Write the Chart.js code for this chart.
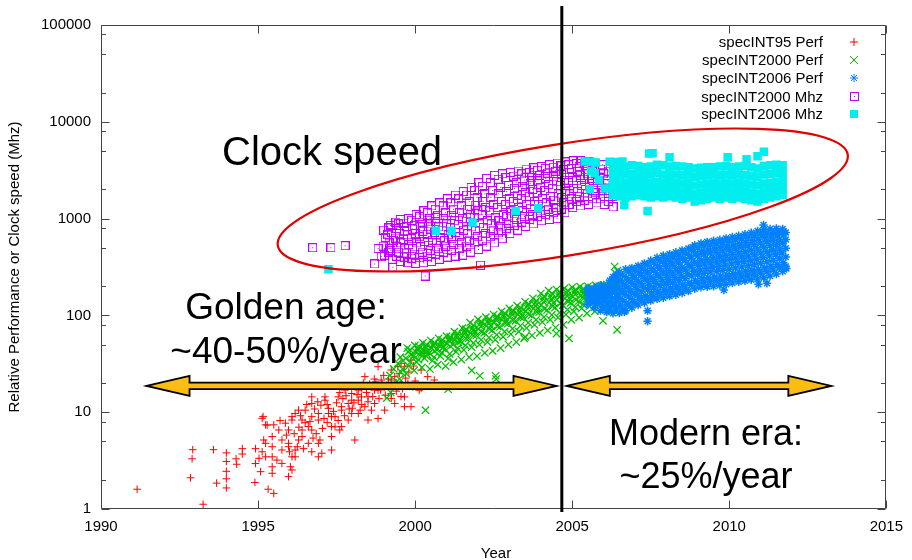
<!DOCTYPE html>
<html>
<head>
<meta charset="utf-8">
<script src="https://cdn.jsdelivr.net/npm/chart.js@4.4.0/dist/chart.umd.min.js"></script>
<style>
  html, body { margin: 0; padding: 0; background: #fff; }
</style>
</head>
<body>
<canvas id="chart" width="912" height="560"></canvas>
<script>
// tick values
const xTicks = [1990, 1995, 2000, 2005, 2010, 2015];
const yTicks = [1, 10, 100, 1000, 10000, 100000];
const yMinorTicks = [2, 5, 8, 20, 50, 80, 200, 500, 800, 2000, 5000, 8000, 20000, 50000, 80000];

const seriesNames = ['specINT95 Perf', 'specINT2000 Perf', 'specINT2006 Perf', 'specINT2000 Mhz', 'specINT2006 Mhz'];

// [year, value]
const spec95Perf = [
  [1991.15,1.6],[1992.85,2.1],[1992.9,3.3],[1992.92,4.1],[1993.25,1.12],[1993.58,4.1],[1993.68,1.85],
  [1993.99,3.8],[1993.99,3.1],[1993.99,2.45],[1993.99,2.05],[1993.99,1.65],[1994.3,3.3],[1994.32,2.9],
  [1994.5,4.2],[1994.5,3.7],[1994.9,1.88],[1994.92,2.95],[1994.92,4.2],[1995.03,3.34],
  [1995.08,2.43],[1995.13,3.9],[1995.13,8.65],[1995.16,9.0],[1995.18,5.16],[1995.24,7.4],[1995.24,4.77],
  [1995.24,3.46],[1995.29,7.36],[1995.32,1.6],[1995.45,4.4],[1995.45,3.46],[1995.45,2.34],[1995.45,5.6],
  [1995.45,2.73],[1995.5,7.4],[1995.5,1.45],[1995.66,6.55],[1995.76,5.16],[1995.76,4.07],[1995.76,2.96],
  [1995.87,7.7],[1995.97,6.55],[1995.97,4.4],[1995.97,4.77],[1995.97,2.16],[1996.03,2.73],[1996.08,8.3],
  [1996.08,9.0],[1996.08,3.46],[1996.08,2.53],[1996.18,9.7],[1996.18,3.46],[1996.18,4.07],[1996.29,5.16],
  [1996.29,10.5],[1996.3,7.0],[1996.4,8.3],[1996.4,6.55],[1996.4,5.6],[1996.5,10.5],[1996.5,7.8],[1996.6,7.1],
  [1996.6,4.77],[1996.71,12.3],[1996.71,9.0],[1996.71,6.55],[1996.71,3.9],[1996.71,14.4],[1996.8,10.8],
  [1996.85,6.0],[1996.92,9.7],[1996.92,8.3],[1996.92,4.77],[1996.92,3.46],[1996.97,5.16],[1997.0,11.8],
  [1997.03,3.77],[1997.1,8.6],[1997.13,14.4],[1997.13,13.3],[1997.24,10.96],[1997.24,9.7],[1997.34,9.0],
  [1997.34,7.1],[1997.34,5.6],[1997.34,4.07],[1997.45,7.07],[1997.45,9.0],[1997.5,12.5],[1997.55,14.4],
  [1997.6,6.55],[1997.66,11.4],[1997.66,10.5],[1997.66,7.1],[1997.7,13.8],[1997.77,16.9],[1997.87,12.3],
  [1997.87,8.3],[1997.98,13.3],[1997.98,9.7],[1997.98,15.6],[1998.0,11.0],[1998.08,5.16],[1998.1,18.5],
  [1998.19,16.9],[1998.19,13.3],[1998.19,9.7],[1998.29,14.4],[1998.3,17.5],[1998.3,12.0],[1998.4,11.4],
  [1998.4,23.3],[1998.5,8.3],[1998.5,14.4],[1998.55,19.5],[1998.6,18.3],[1998.61,10.5],[1998.71,16.9],
  [1998.71,12.3],[1998.75,20.5],[1998.82,8.6],[1998.82,16.9],[1998.82,29.5],[1998.9,17.0],[1998.92,21.5],
  [1999.03,18.3],[1999.03,10.5],[1999.1,19.0],[1999.24,27.3],[1999.24,21.5],[1999.24,15.6],[1999.24,13.9],
  [1999.35,23.3],[1999.35,12.3],[1999.4,16.5],[1999.45,29.5],[1999.45,18.3],[1999.55,32],[1999.55,19.9],
  [1999.6,17.5],[1999.66,29.5],[1999.66,14.4],[1999.66,11.4],[1999.77,19.9],[1999.87,34.5],[1999.87,11.4],
  [2000.08,18.3],[2000.13,16.9],[2000.19,17.6],[2000.19,27.3],[2000.29,40.5],[2000.4,23.3],[2000.61,21.5],
  [1995.6,3.2],[1995.7,8.2],[1995.9,5.8],[1996.0,3.9],[1996.15,6.0],[1996.25,4.4],[1996.35,9.2],
  [1996.45,4.2],[1996.55,12.0],[1996.65,8.0],[1996.75,5.4],[1996.9,12.8],[1997.05,6.8],[1997.2,12.0],
  [1997.2,7.8],[1997.4,10.2],[1997.55,8.2],[1997.6,16.0],[1997.75,9.2],[1997.8,14.8],[1997.9,10.8],
  [1998.05,12.5],[1998.15,15.2],[1998.25,10.5],[1998.35,20.0],[1998.45,16.0],[1998.5,12.8],[1998.65,14.5],
  [1998.7,22.0],[1998.85,13.8],[1998.95,19.5],[1999.0,24.0],[1999.05,15.0],[1999.15,22.0],[1999.3,18.5],
  [1999.5,25.0],[1999.55,14.5],[1999.7,22.5],[1999.8,26],[1999.95,30],[2000.0,21]
];

const spec2000Perf = [
  [1999.1,14],[1999.5,22],[2000.03,18.3],[2000.33,10.5],[2001.05,17.3],[2001.8,27],[2002.06,23.8],
  [2002.56,23.8],[2002.58,22],[2003.5,60],[2004.5,65],[2004.9,58],[2005.98,88],[2006.43,71],
  [1999.22,16],[1999.3,20],[1999.2,24],[1999.32,28],
  [1999.48,20],[1999.55,26],[1999.45,32],[1999.53,37],
  [1999.72,25],[1999.8,30],[1999.7,36],[1999.78,42],[1999.75,46],
  [1999.97,27],[2000.05,33],[1999.95,38],[2000.02,42],[2000.08,46],[1999.99,49],
  [2000.22,29],[2000.3,36],[2000.2,40],[2000.27,44],[2000.33,48],[2000.25,52],
  [2000.47,28],[2000.55,34],[2000.45,41],[2000.52,46],[2000.58,50],[2000.5,55],
  [2000.72,31],[2000.8,38],[2000.7,44],[2000.77,49],[2000.83,54],[2000.75,58],
  [2000.97,30],[2001.05,36],[2000.95,45],[2001.02,51],[2001.08,56],[2001.0,61],
  [2001.22,33],[2001.3,42],[2001.2,50],[2001.27,56],[2001.33,62],[2001.25,68],
  [2001.47,35],[2001.55,44],[2001.45,54],[2001.52,62],[2001.58,68],[2001.5,74],
  [2001.72,37],[2001.8,47],[2001.7,58],[2001.77,66],[2001.83,74],[2001.75,84],
  [2001.97,38],[2002.05,50],[2001.95,62],[2002.02,72],[2002.08,82],[2002.0,91],
  [2002.22,41],[2002.3,53],[2002.2,66],[2002.27,78],[2002.33,88],[2002.25,96],
  [2002.47,43],[2002.55,56],[2002.45,70],[2002.52,84],[2002.58,94],[2002.5,102],
  [2002.72,46],[2002.8,60],[2002.7,76],[2002.77,90],[2002.83,100],[2002.75,110],
  [2002.97,50],[2003.05,64],[2002.95,82],[2003.02,96],[2003.08,108],[2003.0,118],
  [2003.22,53],[2003.3,68],[2003.2,88],[2003.27,102],[2003.33,115],[2003.25,126],
  [2003.47,58],[2003.55,74],[2003.45,95],[2003.52,110],[2003.58,125],[2003.5,138],
  [2003.72,62],[2003.8,80],[2003.7,100],[2003.77,118],[2003.83,135],[2003.75,150],
  [2003.97,66],[2004.05,85],[2003.95,108],[2004.02,128],[2004.08,148],[2004.0,168],
  [2004.22,70],[2004.3,90],[2004.2,114],[2004.27,136],[2004.33,158],[2004.25,180],
  [2004.47,75],[2004.55,95],[2004.45,120],[2004.52,145],[2004.58,165],[2004.5,185],
  [2004.72,80],[2004.8,102],[2004.7,128],[2004.77,150],[2004.83,170],[2004.75,190],
  [2004.97,90],[2005.05,110],[2004.95,135],[2005.02,155],[2005.08,175],[2005.0,195],
  [2005.22,95],[2005.3,118],[2005.2,140],[2005.27,160],[2005.33,180],[2005.25,198],
  [2005.47,105],[2005.55,125],[2005.45,148],[2005.52,168],[2005.58,185],[2005.5,200],
  [2005.72,110],[2005.8,130],[2005.7,152],[2005.77,172],[2005.83,190],[2005.75,204],
  [2005.97,118],[2006.05,138],[2005.95,158],[2006.02,178],[2006.08,195],[2006.0,206],
  [2006.18,122],[2006.24,145],[2006.16,165],[2006.22,185],[2006.26,200],[2006.2,215],
  [2006.33,130],[2006.37,160],[2006.31,190],[2006.36,230],[2006.39,270],[2006.35,320],
  [2006.45,140],[2006.48,175],[2006.43,210],[2006.47,250],[2006.44,290],
  [2000.12,45],[2000.62,52],[2001.12,60],[2001.62,72],[2002.12,85],[2002.62,95],[2003.12,110],
  [2003.62,130],[2004.12,155],[2004.62,170],[2005.12,182],[2005.62,190],[2006.1,195],
  [2000.4,39],[2000.9,47],[2001.4,55],[2001.9,68],[2002.4,78],[2002.9,88],[2003.4,100],
  [2003.9,118],[2004.4,135],[2004.9,150],[2005.4,165],[2005.9,178],
  [1999.6,28],[1999.62,34],[1999.85,33],[1999.87,39],[1999.84,44],
  [2000.1,35],[2000.12,40],[2000.09,44],[2000.11,48],
  [2000.35,38],[2000.37,42],[2000.34,46],[2000.36,50],
  [2000.6,37],[2000.62,43],[2000.59,48],[2000.61,52],
  [2000.85,41],[2000.87,46],[2000.84,51],[2000.86,56],
  [2001.1,40],[2001.12,48],[2001.09,54],[2001.11,58],
  [2001.35,46],[2001.37,53],[2001.34,59],[2001.36,65],
  [2001.6,49],[2001.62,58],[2001.59,65],[2001.61,71],
  [2001.85,52],[2001.87,62],[2001.84,70],[2001.86,79],
  [2002.1,56],[2002.12,67],[2002.09,77],[2002.11,86],
  [2002.35,59],[2002.37,72],[2002.34,83],[2002.36,92],
  [2002.6,63],[2002.62,77],[2002.59,89],[2002.61,98],
  [2002.85,68],[2002.87,83],[2002.84,95],[2002.86,105],
  [2003.1,73],[2003.12,89],[2003.09,102],[2003.11,113],
  [2003.35,78],[2003.37,95],[2003.34,108],[2003.36,120],
  [2003.6,84],[2003.62,102],[2003.59,117],[2003.61,131],
  [2003.85,90],[2003.87,109],[2003.84,126],[2003.86,142],
  [2004.1,96],[2004.12,117],[2004.09,138],[2004.11,158],
  [2004.35,101],[2004.37,124],[2004.34,147],[2004.36,169],
  [2004.6,107],[2004.62,132],[2004.59,155],[2004.61,175],
  [2004.85,115],[2004.87,139],[2004.84,160],[2004.86,180],
  [2005.1,122],[2005.12,145],[2005.09,165],[2005.11,185],
  [2005.35,130],[2005.37,150],[2005.34,170],[2005.36,189],
  [2005.6,136],[2005.62,158],[2005.59,176],[2005.61,195],
  [2005.85,144],[2005.87,165],[2005.84,183],[2005.86,200],
  [2006.1,150],[2006.12,170],[2006.09,190],[2006.11,208]
];

const spec2006Perf = [
  [2007.4,112],[2007.4,87],[2009.83,183],[2010.93,210],[2011.2,215],[2011.82,305],[2011.09,860],
  [2008.83,506],[2006.66,109],
  [2005.5,130],[2005.52,150],[2005.48,170],[2005.5,190],
  [2005.7,120],[2005.72,140],[2005.68,165],[2005.7,190],
  [2005.9,112],[2005.92,135],[2005.88,160],[2005.9,185],[2005.92,205],
  [2006.1,108],[2006.12,128],[2006.08,150],[2006.1,175],[2006.12,200],
  [2006.3,105],[2006.32,125],[2006.28,150],[2006.3,180],[2006.32,215],[2006.3,250],
  [2006.5,106],[2006.52,128],[2006.48,155],[2006.5,190],[2006.52,230],[2006.5,280],
  [2006.7,112],[2006.72,135],[2006.68,165],[2006.7,200],[2006.72,245],[2006.7,300],
  [2006.9,120],[2006.92,145],[2006.88,175],[2006.9,215],[2006.92,260],[2006.9,310],
  [2007.1,128],[2007.12,155],[2007.08,185],[2007.1,225],[2007.12,275],[2007.1,325],
  [2007.3,135],[2007.32,160],[2007.28,195],[2007.3,240],[2007.32,290],[2007.3,345],
  [2007.5,142],[2007.52,170],[2007.48,205],[2007.5,250],[2007.52,305],[2007.5,370],
  [2007.7,148],[2007.72,178],[2007.68,215],[2007.7,265],[2007.72,325],[2007.7,395],
  [2007.9,152],[2007.92,185],[2007.88,225],[2007.9,280],[2007.92,345],[2007.9,415],
  [2008.1,158],[2008.12,192],[2008.08,235],[2008.1,290],[2008.12,360],[2008.1,430],
  [2008.3,163],[2008.32,200],[2008.28,245],[2008.3,305],[2008.32,375],[2008.3,450],
  [2008.5,170],[2008.52,208],[2008.48,255],[2008.5,315],[2008.52,390],[2008.5,470],
  [2008.7,178],[2008.72,218],[2008.68,270],[2008.7,335],[2008.72,415],[2008.7,490],
  [2008.9,188],[2008.92,230],[2008.88,285],[2008.9,355],[2008.92,440],[2008.9,530],
  [2009.1,195],[2009.12,240],[2009.08,295],[2009.1,370],[2009.12,460],[2009.1,555],
  [2009.3,198],[2009.32,245],[2009.28,305],[2009.3,380],[2009.32,475],[2009.3,575],
  [2009.5,200],[2009.52,250],[2009.48,315],[2009.5,395],[2009.52,490],[2009.5,590],
  [2009.7,205],[2009.72,255],[2009.68,320],[2009.7,405],[2009.72,505],[2009.7,605],
  [2009.9,210],[2009.92,262],[2009.88,330],[2009.9,415],[2009.92,520],[2009.9,625],
  [2010.1,216],[2010.12,270],[2010.08,340],[2010.1,428],[2010.12,535],[2010.1,645],
  [2010.3,222],[2010.32,278],[2010.28,350],[2010.3,440],[2010.32,550],[2010.3,665],
  [2010.5,228],[2010.52,285],[2010.48,360],[2010.5,455],[2010.52,570],[2010.5,690],
  [2010.7,233],[2010.72,292],[2010.68,370],[2010.7,470],[2010.72,590],[2010.7,715],
  [2010.9,238],[2010.92,300],[2010.88,380],[2010.9,485],[2010.92,615],[2010.9,745],
  [2011.1,245],[2011.12,310],[2011.08,395],[2011.1,505],[2011.12,640],[2011.1,770],
  [2011.3,255],[2011.32,322],[2011.28,410],[2011.3,525],[2011.32,660],[2011.3,780],
  [2011.5,268],[2011.52,335],[2011.48,425],[2011.5,540],[2011.52,675],[2011.5,790],
  [2011.7,285],[2011.72,350],[2011.68,440],[2011.7,555],[2011.72,680],[2011.7,780],
  [2005.6,140],[2005.6,160],[2005.6,180],
  [2005.8,130],[2005.8,152],[2005.8,178],[2005.8,198],
  [2006.0,122],[2006.0,145],[2006.0,170],[2006.0,195],
  [2006.2,115],[2006.2,138],[2006.2,165],[2006.2,190],[2006.2,230],
  [2006.4,115],[2006.4,140],[2006.4,165],[2006.4,195],[2006.4,235],[2006.4,265],
  [2006.6,118],[2006.6,145],[2006.6,178],[2006.6,215],[2006.6,260],
  [2006.8,128],[2006.8,155],[2006.8,188],[2006.8,230],[2006.8,280],
  [2007.0,135],[2007.0,165],[2007.0,200],[2007.0,245],[2007.0,295],
  [2007.2,145],[2007.2,175],[2007.2,212],[2007.2,260],[2007.2,310],
  [2007.4,152],[2007.4,185],[2007.4,225],[2007.4,275],[2007.4,330],
  [2007.6,158],[2007.6,192],[2007.6,235],[2007.6,290],[2007.6,350],
  [2007.8,165],[2007.8,202],[2007.8,248],[2007.8,305],[2007.8,370],
  [2008.0,172],[2008.0,210],[2008.0,258],[2008.0,320],[2008.0,385],
  [2008.2,178],[2008.2,218],[2008.2,268],[2008.2,330],[2008.2,405],
  [2008.4,185],[2008.4,228],[2008.4,280],[2008.4,350],[2008.4,420],
  [2008.6,192],[2008.6,240],[2008.6,295],[2008.6,370],[2008.6,445],
  [2008.8,205],[2008.8,255],[2008.8,315],[2008.8,390],[2008.8,470],
  [2009.0,215],[2009.0,265],[2009.0,330],[2009.0,410],[2009.0,500],
  [2009.2,220],[2009.2,272],[2009.2,340],[2009.2,425],[2009.2,520],
  [2009.4,222],[2009.4,280],[2009.4,350],[2009.4,440],[2009.4,535],
  [2009.6,228],[2009.6,285],[2009.6,358],[2009.6,450],[2009.6,550],
  [2009.8,233],[2009.8,292],[2009.8,368],[2009.8,462],[2009.8,565],
  [2010.0,240],[2010.0,300],[2010.0,380],[2010.0,478],[2010.0,585],
  [2010.2,246],[2010.2,308],[2010.2,390],[2010.2,490],[2010.2,600],
  [2010.4,252],[2010.4,316],[2010.4,400],[2010.4,505],[2010.4,620],
  [2010.6,258],[2010.6,325],[2010.6,412],[2010.6,520],[2010.6,640],
  [2010.8,265],[2010.8,335],[2010.8,425],[2010.8,540],[2010.8,665],
  [2011.0,272],[2011.0,345],[2011.0,440],[2011.0,560],[2011.0,690],
  [2011.2,282],[2011.2,358],[2011.2,455],[2011.2,580],[2011.2,710],
  [2011.4,295],[2011.4,372],[2011.4,470],[2011.4,598],[2011.4,720],
  [2011.6,310],[2011.6,388],[2011.6,485],[2011.6,610],[2011.6,725],
  [2011.8,320],[2011.8,400],[2011.8,495],[2011.8,610],[2011.8,720]
];

const spec2000Mhz = [
  [1996.74,500],[1997.32,500],[1997.77,525],[1998.82,490],[1999.19,490],[1998.92,405],[1998.71,340],
  [1999.29,315],[2000.32,255],[2002.08,330],
  [1999.02,420],[1998.98,520],[1999.05,640],[1999.0,760],
  [1999.27,380],[1999.23,470],[1999.3,600],[1999.25,720],[1999.22,850],
  [1999.52,360],[1999.48,450],[1999.55,560],[1999.5,700],[1999.47,880],[1999.53,980],
  [1999.77,350],[1999.73,440],[1999.8,540],[1999.75,680],[1999.72,820],[1999.78,1000],
  [2000.02,345],[1999.98,430],[2000.05,560],[2000.0,700],[1999.97,850],[2000.03,1100],
  [2000.27,350],[2000.23,450],[2000.3,580],[2000.25,740],[2000.22,920],[2000.28,1200],
  [2000.52,360],[2000.48,470],[2000.55,600],[2000.5,780],[2000.47,1000],[2000.53,1350],
  [2000.77,380],[2000.73,490],[2000.8,640],[2000.75,820],[2000.72,1080],[2000.78,1450],
  [2001.02,400],[2000.98,520],[2001.05,680],[2001.0,880],[2000.97,1150],[2001.03,1600],
  [2001.27,410],[2001.23,540],[2001.3,720],[2001.25,950],[2001.22,1250],[2001.28,1750],
  [2001.52,420],[2001.48,560],[2001.55,760],[2001.5,1000],[2001.47,1350],[2001.53,1900],
  [2001.77,450],[2001.73,600],[2001.8,820],[2001.75,1100],[2001.72,1500],[2001.78,2100],
  [2002.02,480],[2001.98,650],[2002.05,880],[2002.0,1200],[2001.97,1650],[2002.03,2350],
  [2002.27,520],[2002.23,700],[2002.3,950],[2002.25,1300],[2002.22,1800],[2002.28,2600],
  [2002.52,560],[2002.48,760],[2002.55,1020],[2002.5,1400],[2002.47,1950],[2002.53,2800],
  [2002.77,620],[2002.73,820],[2002.8,1100],[2002.75,1500],[2002.72,2100],[2002.78,2900],
  [2003.02,700],[2002.98,900],[2003.05,1200],[2003.0,1600],[2002.97,2200],[2003.03,3000],
  [2003.27,760],[2003.23,980],[2003.3,1300],[2003.25,1750],[2003.22,2350],[2003.28,3100],
  [2003.52,830],[2003.48,1050],[2003.55,1400],[2003.5,1850],[2003.47,2500],[2003.53,3250],
  [2003.77,880],[2003.73,1100],[2003.8,1500],[2003.75,2000],[2003.72,2650],[2003.78,3350],
  [2004.02,950],[2003.98,1200],[2004.05,1600],[2004.0,2100],[2003.97,2800],[2004.03,3450],
  [2004.27,980],[2004.23,1250],[2004.3,1700],[2004.25,2250],[2004.22,2950],[2004.28,3600],
  [2004.52,1000],[2004.48,1300],[2004.55,1800],[2004.5,2400],[2004.47,3100],[2004.53,3750],
  [2004.77,1150],[2004.73,1450],[2004.8,1900],[2004.75,2500],[2004.72,3200],[2004.78,3850],
  [2005.02,1300],[2004.98,1600],[2005.05,2050],[2005.0,2650],[2004.97,3300],[2005.03,3950],
  [2005.27,1350],[2005.23,1700],[2005.3,2200],[2005.25,2800],[2005.22,3450],[2005.28,3950],
  [2005.52,1400],[2005.48,1800],[2005.55,2300],[2005.5,2900],[2005.47,3500],[2005.53,3900],
  [2005.77,1450],[2005.73,1850],[2005.8,2350],[2005.75,2950],[2005.72,3500],
  [2006.02,1400],[2005.98,1800],[2006.05,2300],[2006.0,2900],[2005.97,3600],
  [2006.3,1320],[2006.27,1700],[2006.33,2200],[2006.3,2800],
  [1999.15,450],[1999.17,560],[1999.13,680],[1999.16,800],
  [1999.4,410],[1999.42,510],[1999.38,630],[1999.41,790],[1999.39,920],
  [1999.65,400],[1999.67,490],[1999.63,610],[1999.66,750],[1999.64,900],
  [1999.9,390],[1999.92,490],[1999.88,620],[1999.91,780],[1999.89,960],
  [2000.15,395],[2000.17,510],[2000.13,650],[2000.16,820],[2000.14,1050],
  [2000.4,410],[2000.42,530],[2000.38,690],[2000.41,880],[2000.39,1150],
  [2000.65,430],[2000.67,560],[2000.63,720],[2000.66,930],[2000.64,1250],
  [2000.9,450],[2000.92,590],[2000.88,760],[2000.91,1000],[2000.89,1350],
  [2001.15,470],[2001.17,620],[2001.13,810],[2001.16,1080],[2001.14,1450],
  [2001.4,490],[2001.42,650],[2001.38,870],[2001.41,1150],[2001.39,1600],
  [2001.65,520],[2001.67,700],[2001.63,940],[2001.66,1250],[2001.64,1750],
  [2001.9,560],[2001.92,750],[2001.88,1020],[2001.91,1380],[2001.89,1950],
  [2002.15,600],[2002.17,810],[2002.13,1100],[2002.16,1500],[2002.14,2150],
  [2002.4,650],[2002.42,880],[2002.38,1200],[2002.41,1650],[2002.39,2350],
  [2002.65,710],[2002.67,950],[2002.63,1300],[2002.66,1800],[2002.64,2550],
  [2002.9,790],[2002.92,1050],[2002.88,1400],[2002.91,1900],[2002.89,2650],
  [2003.15,850],[2003.17,1120],[2003.13,1500],[2003.16,2050],[2003.14,2750],
  [2003.4,920],[2003.42,1200],[2003.38,1600],[2003.41,2150],[2003.39,2900],
  [2003.65,980],[2003.67,1280],[2003.63,1700],[2003.66,2300],[2003.64,3000],
  [2003.9,1050],[2003.92,1400],[2003.88,1850],[2003.91,2450],[2003.89,3150],
  [2004.15,1100],[2004.17,1450],[2004.13,1950],[2004.16,2600],[2004.14,3300],
  [2004.4,1150],[2004.42,1550],[2004.38,2050],[2004.41,2700],[2004.39,3400],
  [2004.65,1250],[2004.67,1650],[2004.63,2200],[2004.66,2850],[2004.64,3500],
  [2004.9,1400],[2004.92,1800],[2004.88,2350],[2004.91,3000],[2004.89,3600],
  [2005.15,1500],[2005.17,1900],[2005.13,2450],[2005.16,3100],[2005.14,3700],
  [2005.4,1550],[2005.42,2000],[2005.38,2550],[2005.41,3200],[2005.39,3700],
  [2005.65,1600],[2005.67,2050],[2005.63,2600],[2005.66,3200],[2005.64,3750],
  [2005.9,1600],[2005.92,2050],[2005.88,2600],[2005.91,3250],
  [2006.15,1500],[2006.17,1950],[2006.13,2500],[2006.16,3100]
];

const spec2006Mhz = [
  [1997.24,300],[2000.66,750],[2001.16,750],[2001.83,910],[2003.2,1200],[2003.92,1280],
  [2005.4,3900],[2005.6,3870],[2005.75,3800],[2005.56,2010],[2006.04,2050],[2005.72,2940],
  [2005.6,3100],[2005.85,2500],[2006.19,3870],[2006.4,3850],[2006.6,3900],[2006.66,1380],
  [2007.4,1200],[2007.56,4720],[2007.45,4700],
  [2006.3,1750],[2006.3,2050],[2006.3,2450],[2006.3,2950],[2006.3,3450],
  [2006.5,1700],[2006.5,2000],[2006.5,2400],[2006.5,2900],[2006.5,3400],
  [2006.7,1650],[2006.7,1950],[2006.7,2350],[2006.7,2850],[2006.7,3450],
  [2006.9,1700],[2006.9,2000],[2006.9,2400],[2006.9,2900],[2006.9,3550],
  [2007.1,1750],[2007.1,2050],[2007.1,2450],[2007.1,2950],[2007.1,3500],
  [2007.3,1700],[2007.3,2000],[2007.3,2400],[2007.3,2900],[2007.3,3400],
  [2007.5,1650],[2007.5,1950],[2007.5,2350],[2007.5,2850],[2007.5,3450],
  [2007.7,1700],[2007.7,2000],[2007.7,2400],[2007.7,2950],[2007.7,3600],
  [2007.9,1650],[2007.9,1950],[2007.9,2350],[2007.9,2850],[2007.9,3550],
  [2008.1,1700],[2008.1,2000],[2008.1,2400],[2008.1,2900],[2008.1,3450],[2008.1,4300],
  [2008.3,1650],[2008.3,1950],[2008.3,2350],[2008.3,2850],[2008.3,3500],
  [2008.5,1600],[2008.5,1900],[2008.5,2300],[2008.5,2800],[2008.5,3450],
  [2008.7,1650],[2008.7,1950],[2008.7,2350],[2008.7,2850],[2008.7,3400],
  [2008.9,1500],[2008.9,1800],[2008.9,2200],[2008.9,2700],[2008.9,3300],
  [2009.1,1550],[2009.1,1850],[2009.1,2250],[2009.1,2750],[2009.1,3350],
  [2009.3,1600],[2009.3,1900],[2009.3,2300],[2009.3,2800],[2009.3,3400],
  [2009.5,1650],[2009.5,1950],[2009.5,2350],[2009.5,2850],[2009.5,3400],
  [2009.7,1600],[2009.7,1900],[2009.7,2300],[2009.7,2800],[2009.7,3450],
  [2009.9,1650],[2009.9,1950],[2009.9,2350],[2009.9,2850],[2009.9,3500],[2009.95,4300],
  [2010.1,1600],[2010.1,1900],[2010.1,2300],[2010.1,2800],[2010.1,3400],
  [2010.3,1650],[2010.3,1950],[2010.3,2350],[2010.3,2850],[2010.3,3450],
  [2010.5,1600],[2010.5,1900],[2010.5,2300],[2010.5,2800],[2010.5,3500],[2010.55,4100],
  [2010.7,1550],[2010.7,1850],[2010.7,2250],[2010.7,2750],[2010.7,3400],
  [2010.9,1500],[2010.9,1800],[2010.9,2200],[2010.9,2700],[2010.9,3300],[2010.9,4400],
  [2011.1,1600],[2011.1,1900],[2011.1,2300],[2011.1,2850],[2011.1,3500],[2011.1,4900],
  [2011.3,1650],[2011.3,1950],[2011.3,2350],[2011.3,2900],[2011.3,3550],
  [2011.5,1700],[2011.5,2000],[2011.5,2400],[2011.5,2950],[2011.5,3600],
  [2011.7,1750],[2011.7,2050],[2011.7,2450],[2011.7,2950],[2011.7,3550]
];

const FONT = '"Liberation Sans", Arial, Helvetica, sans-serif';
const RED = '#ff0000', GREEN = '#00c000', BLUE = '#0080ff', MAGENTA = '#c000ff', CYAN = '#00eeee';

// open square with centre dot, like gnuplot point type 4
function openSquare(color) {
  const c = document.createElement('canvas');
  c.width = 9; c.height = 9;
  const g = c.getContext('2d');
  g.strokeStyle = color;
  g.lineWidth = 1;
  g.strokeRect(0.5, 0.5, 8, 8);
  g.fillStyle = color;
  g.fillRect(4, 4, 1, 1);
  return c;
}
const squareImg = openSquare(MAGENTA);

const toPoints = arr => arr.map(p => ({ x: p[0], y: p[1] }));

const styles = [
  { pointStyle: 'cross', pointRadius: 3.8, borderColor: RED, backgroundColor: RED, pointBorderWidth: 1 },
  { pointStyle: 'crossRot', pointRadius: 5.2, borderColor: GREEN, backgroundColor: GREEN, pointBorderWidth: 1.25 },
  { pointStyle: 'star', pointRadius: 4.2, borderColor: BLUE, backgroundColor: BLUE, pointBorderWidth: 1.5 },
  { pointStyle: squareImg, pointRadius: 4.5, borderColor: MAGENTA, backgroundColor: MAGENTA, pointBorderWidth: 1 },
  { pointStyle: 'rect', pointRadius: 6, borderColor: CYAN, backgroundColor: CYAN, pointBorderWidth: 0 }
];
const allSeries = [spec95Perf, spec2000Perf, spec2006Perf, spec2000Mhz, spec2006Mhz];

const overlay = {
  id: 'overlay',
  afterDatasetsDraw(chart) {
    const { ctx, chartArea: a, scales: { x, y } } = chart;
    ctx.save();

    // border and inward ticks
    const L = Math.round(a.left) + 0.5, R = Math.round(a.right) - 0.5;
    const T = Math.round(a.top) + 0.5, B = Math.round(a.bottom) - 0.5;
    ctx.strokeStyle = '#444';
    ctx.lineWidth = 1;
    ctx.beginPath();
    ctx.rect(L, T, R - L, B - T);
    xTicks.forEach(v => {
      const px = Math.round(x.getPixelForValue(v)) + 0.5;
      ctx.moveTo(px, B); ctx.lineTo(px, B - 8);
      ctx.moveTo(px, T); ctx.lineTo(px, T + 8);
    });
    yTicks.forEach(v => {
      const py = Math.round(y.getPixelForValue(v)) + 0.5;
      ctx.moveTo(L, py); ctx.lineTo(L + 8, py);
      ctx.moveTo(R, py); ctx.lineTo(R - 8, py);
    });
    yMinorTicks.forEach(v => {
      const py = Math.round(y.getPixelForValue(v)) + 0.5;
      ctx.moveTo(L, py); ctx.lineTo(L + 4.5, py);
      ctx.moveTo(R, py); ctx.lineTo(R - 4.5, py);
    });
    ctx.stroke();

    // red ellipse round the clock speed cloud
    ctx.strokeStyle = '#e00000';
    ctx.lineWidth = 2.2;
    ctx.beginPath();
    ctx.ellipse(x.getPixelForValue(2004.7), y.getPixelForValue(1556), 288.6, 55.8, -9.07 * Math.PI / 180, 0, Math.PI * 2);
    ctx.stroke();

    // vertical divider
    const vx = x.getPixelForValue(2004.67);
    ctx.strokeStyle = '#000';
    ctx.lineWidth = 3;
    ctx.beginPath();
    ctx.moveTo(vx, 6);
    ctx.lineTo(vx, a.bottom + 3);
    ctx.stroke();

    // double arrows
    const ay = y.getPixelForValue(18.7);
    function arrow(x1, x2) {
      const hl = 43, hh = 10, sh = 3.2;
      ctx.beginPath();
      ctx.moveTo(x1, ay);
      ctx.lineTo(x1 + hl, ay - hh);
      ctx.lineTo(x1 + hl, ay - sh);
      ctx.lineTo(x2 - hl, ay - sh);
      ctx.lineTo(x2 - hl, ay - hh);
      ctx.lineTo(x2, ay);
      ctx.lineTo(x2 - hl, ay + hh);
      ctx.lineTo(x2 - hl, ay + sh);
      ctx.lineTo(x1 + hl, ay + sh);
      ctx.lineTo(x1 + hl, ay + hh);
      ctx.closePath();
      ctx.fillStyle = '#fbbd13';
      ctx.fill();
      ctx.strokeStyle = '#000';
      ctx.lineWidth = 1.8;
      ctx.lineJoin = 'miter';
      ctx.stroke();
    }
    arrow(x.getPixelForValue(1991.45), x.getPixelForValue(2004.5));
    arrow(x.getPixelForValue(2004.83), x.getPixelForValue(2013.25));

    // big annotations
    ctx.fillStyle = '#000';
    ctx.textBaseline = 'alphabetic';
    ctx.textAlign = 'left';
    ctx.font = '40px ' + FONT;
    ctx.fillText('Clock speed', 222, 165);
    ctx.textAlign = 'center';
    ctx.font = '37px ' + FONT;
    ctx.fillText('Golden age:', 286, 319);
    ctx.fillText('~40-50%/year', 286, 363);
    ctx.font = '36px ' + FONT;
    ctx.fillText('Modern era:', 706, 445);
    ctx.fillText('~25%/year', 706, 488);

    // axis titles
    ctx.font = '15px ' + FONT;
    ctx.fillText('Year', 496, 558);
    ctx.save();
    ctx.translate(18.5, (a.top + a.bottom) / 2);
    ctx.rotate(-Math.PI / 2);
    ctx.fillText('Relative Performance or Clock speed (Mhz)', 0, 0);
    ctx.restore();

    // key
    const rows = [42, 60, 78, 96.5, 114];
    const mx = 854;
    ctx.textAlign = 'right';
    ctx.textBaseline = 'middle';
    seriesNames.forEach((name, i) => {
      const ry = rows[i];
      ctx.fillStyle = '#000';
      ctx.fillText(name, 823, ry + 1);
      ctx.lineWidth = 1;
      ctx.beginPath();
      if (i === 0) {
        ctx.strokeStyle = RED;
        ctx.moveTo(mx - 4, ry); ctx.lineTo(mx + 4, ry);
        ctx.moveTo(mx, ry - 4); ctx.lineTo(mx, ry + 4);
        ctx.stroke();
      } else if (i === 1) {
        ctx.strokeStyle = GREEN;
        ctx.moveTo(mx - 4, ry - 4); ctx.lineTo(mx + 4, ry + 4);
        ctx.moveTo(mx - 4, ry + 4); ctx.lineTo(mx + 4, ry - 4);
        ctx.stroke();
      } else if (i === 2) {
        ctx.strokeStyle = BLUE;
        ctx.moveTo(mx - 4, ry); ctx.lineTo(mx + 4, ry);
        ctx.moveTo(mx, ry - 4); ctx.lineTo(mx, ry + 4);
        ctx.moveTo(mx - 3, ry - 3); ctx.lineTo(mx + 3, ry + 3);
        ctx.moveTo(mx - 3, ry + 3); ctx.lineTo(mx + 3, ry - 3);
        ctx.stroke();
      } else if (i === 3) {
        ctx.drawImage(squareImg, Math.round(mx - 4.5), Math.round(ry - 4.5));
      } else {
        ctx.fillStyle = CYAN;
        ctx.fillRect(mx - 4, ry - 4, 8, 8);
      }
    });

    ctx.restore();
  }
};

new Chart(document.getElementById('chart'), {
  type: 'scatter',
  data: {
    datasets: allSeries.map((s, i) => Object.assign({
      label: seriesNames[i],
      data: toPoints(s),
      order: 4 - i,
      pointHoverRadius: 0
    }, styles[i]))
  },
  options: {
    responsive: false,
    devicePixelRatio: 1,
    animation: false,
    events: [],
    layout: { padding: { top: 25, right: 20, left: 0, bottom: 0 } },
    plugins: { legend: { display: false }, tooltip: { enabled: false } },
    scales: {
      x: {
        type: 'linear',
        min: 1990,
        max: 2015,
        afterBuildTicks: s => { s.ticks = xTicks.map(v => ({ value: v })); },
        afterFit: s => { s.height = 51; },
        grid: { display: false, drawTicks: false },
        border: { display: false },
        ticks: { padding: 9, color: '#000', font: { family: FONT, size: 15 }, maxRotation: 0, callback: v => String(v) }
      },
      y: {
        type: 'logarithmic',
        min: 1,
        max: 100000,
        afterBuildTicks: s => { s.ticks = yTicks.map(v => ({ value: v })); },
        afterFit: s => { s.width = 101; },
        grid: { display: false, drawTicks: false },
        border: { display: false },
        ticks: { padding: 10, color: '#000', font: { family: FONT, size: 15 }, callback: v => String(v) }
      }
    }
  },
  plugins: [overlay]
});
</script>
</body>
</html>
